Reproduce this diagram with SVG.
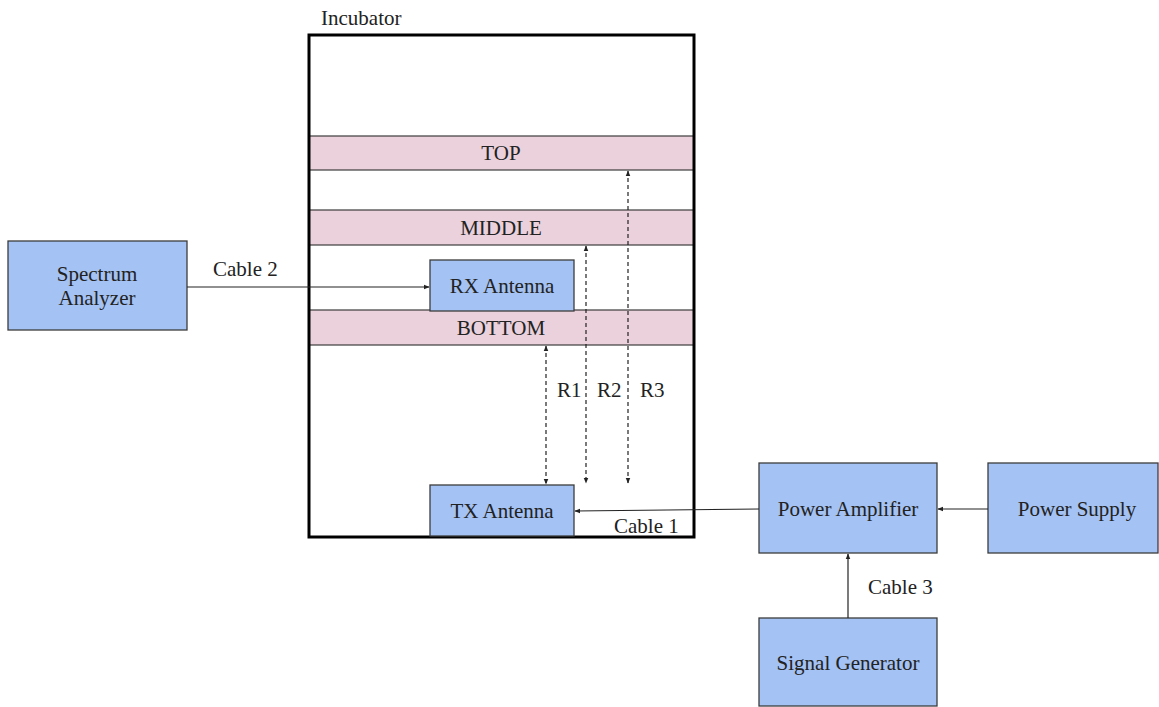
<svg xmlns="http://www.w3.org/2000/svg" width="1159" height="707" viewBox="0 0 1159 707">
<style>
text{font-family:'Liberation Serif','DejaVu Serif',serif;font-size:21px;fill:#222}
.c{text-anchor:middle}
.box{fill:#a4c2f4;stroke:#3c3c3c;stroke-width:1.3}
.band{fill:#ead1dc;stroke:#3c3c3c;stroke-width:1.2}
.ln{stroke:#222;stroke-width:1.2;fill:none}
.dash{stroke:#222;stroke-width:1.2;fill:none;stroke-dasharray:4,3}
</style>
<defs>
<marker id="ah" viewBox="0 0 10 10" refX="9" refY="5" markerWidth="6" markerHeight="6" orient="auto-start-reverse" markerUnits="userSpaceOnUse">
<path d="M0,1 L10,5 L0,9 z" fill="#222"/>
</marker>
</defs>
<rect width="1159" height="707" fill="#fff"/>
<g font-family="Liberation Serif, DejaVu Serif, serif">
<g id="incubator">
<rect x="309" y="35" width="385" height="502" fill="#fff"/>
<text x="321" y="25">Incubator</text>
</g>
<g id="top"><rect class="band" x="309" y="136" width="385" height="34"/><text class="c" x="501" y="160">TOP</text></g>
<g id="middle"><rect class="band" x="309" y="210" width="385" height="35"/><text class="c" x="501" y="235">MIDDLE</text></g>
<g id="bottom"><rect class="band" x="309" y="310" width="385" height="35"/><text class="c" x="501" y="335">BOTTOM</text></g>
<g id="incubator-border"><rect x="309" y="35" width="385" height="502" fill="none" stroke="#000" stroke-width="3"/></g>
<g id="rx"><rect class="box" x="430" y="260" width="144" height="51"/><text class="c" x="502" y="293">RX Antenna</text></g>
<g id="tx"><rect class="box" x="430" y="485" width="144" height="51"/><text class="c" x="502" y="518">TX Antenna</text></g>
<g id="spectrum"><rect class="box" x="8" y="241" width="179" height="89"/><text class="c" x="97" y="281">Spectrum</text><text class="c" x="97" y="305">Analyzer</text></g>
<g id="pa"><rect class="box" x="759" y="463" width="178" height="90"/><text class="c" x="848" y="516">Power Amplifier</text></g>
<g id="ps"><rect class="box" x="988" y="463" width="170" height="90"/><text class="c" x="1077" y="516">Power Supply</text></g>
<g id="sg"><rect class="box" x="759" y="618" width="178" height="88"/><text class="c" x="848" y="670">Signal Generator</text></g>
<g id="connectors">
<line class="ln" x1="187" y1="287" x2="429" y2="287" marker-end="url(#ah)"/>
<text x="213" y="276">Cable 2</text>
<line class="ln" x1="759" y1="509" x2="575" y2="511" marker-end="url(#ah)"/>
<text x="614" y="533">Cable 1</text>
<line class="ln" x1="988" y1="509" x2="938" y2="509" marker-end="url(#ah)"/>
<line class="ln" x1="848" y1="618" x2="848" y2="554" marker-end="url(#ah)"/>
<text x="868" y="594">Cable 3</text>
<line class="dash" x1="546" y1="346" x2="546" y2="484" marker-start="url(#ah)" marker-end="url(#ah)"/>
<line class="dash" x1="586" y1="246" x2="586" y2="483" marker-start="url(#ah)" marker-end="url(#ah)"/>
<line class="dash" x1="628" y1="171" x2="628" y2="483" marker-start="url(#ah)" marker-end="url(#ah)"/>
<text x="557" y="397">R1</text>
<text x="597" y="397">R2</text>
<text x="640" y="397">R3</text>
</g>
</g>
</svg>
